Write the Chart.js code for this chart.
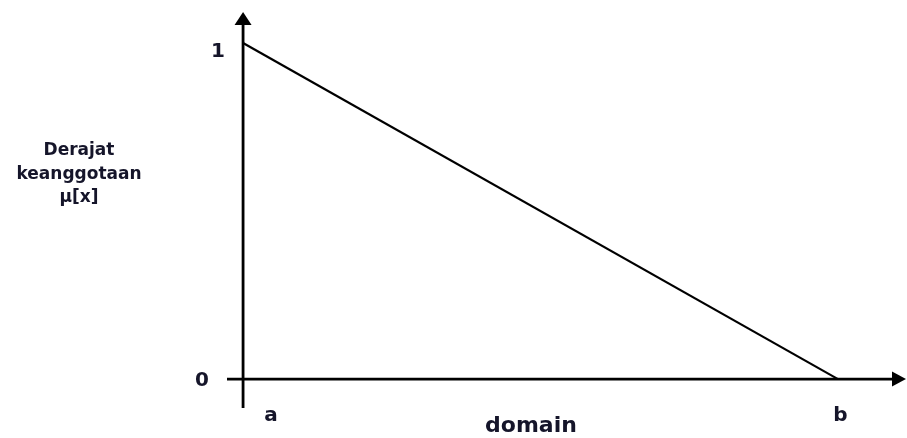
<!DOCTYPE html>
<html>
<head>
<meta charset="utf-8">
<script src="https://cdn.jsdelivr.net/npm/chart.js@4"></script>
<style>
  html, body { margin: 0; padding: 0; background: #fff; }
  #wrap { width: 907px; height: 438px; position: relative; }
</style>
</head>
<body>
<div id="wrap"><canvas id="myChart"></canvas></div>
<script>
// domain points and their membership degree
const xTickValues = [0, 1];
const xTickLabels = ['a', 'b'];
const membership = [1, 0];
const yTickValues = [0, 1];
const yTickLabels = ['0', '1'];
const yTitleLines = ['Derajat', 'keanggotaan', 'μ[x]'];
const xTitle = 'domain';

const textColor = '#15152a';
const fontFamily = '"DejaVu Sans", sans-serif';

// axes with arrow heads + labels, positioned from the scales
const axesPlugin = {
    id: 'arrowAxes',
    afterDatasetsDraw(chart) {
        const ctx = chart.ctx;
        const area = chart.chartArea;
        const xs = chart.scales.x;
        const ys = chart.scales.y;
        const x0 = xs.getPixelForValue(0);
        const y0 = ys.getPixelForValue(0);

        ctx.save();
        ctx.strokeStyle = '#000';
        ctx.fillStyle = '#000';
        ctx.lineWidth = 2.8;

        // y axis
        ctx.beginPath();
        ctx.moveTo(x0, area.bottom);
        ctx.lineTo(x0, area.top + 10);
        ctx.stroke();
        ctx.beginPath();
        ctx.moveTo(x0, area.top);
        ctx.lineTo(x0 - 8.5, area.top + 13);
        ctx.lineTo(x0 + 8.5, area.top + 13);
        ctx.closePath();
        ctx.fill();

        // x axis
        ctx.beginPath();
        ctx.moveTo(area.left, y0);
        ctx.lineTo(area.right - 12, y0);
        ctx.stroke();
        ctx.beginPath();
        ctx.moveTo(area.right - 1, y0);
        ctx.lineTo(area.right - 15, y0 - 7.5);
        ctx.lineTo(area.right - 15, y0 + 7.5);
        ctx.closePath();
        ctx.fill();

        ctx.fillStyle = textColor;
        ctx.textAlign = 'center';

        // y ticks
        ctx.font = 'bold 20px ' + fontFamily;
        ctx.textBaseline = 'middle';
        const yOffsets = [{dx: -41, dy: 2}, {dx: -25, dy: 9}];
        yTickValues.forEach((v, i) => {
            ctx.fillText(yTickLabels[i], x0 + yOffsets[i].dx, ys.getPixelForValue(v) + yOffsets[i].dy);
        });

        // x ticks
        ctx.textBaseline = 'alphabetic';
        const xOffsets = [28, 2.5];
        xTickValues.forEach((v, i) => {
            ctx.fillText(xTickLabels[i], xs.getPixelForValue(v) + xOffsets[i], y0 + 42);
        });

        // x title
        ctx.font = 'bold 22px ' + fontFamily;
        ctx.fillText(xTitle, 531, y0 + 53);

        // y title
        ctx.font = 'bold 17px ' + fontFamily;
        yTitleLines.forEach((t, i) => {
            ctx.fillText(t, 79, 155 + i * 23.5);
        });
        ctx.restore();
    }
};

const ctx = document.getElementById('myChart').getContext('2d');

const myChart = new Chart(ctx, {
    type: 'scatter',
    data: {
        datasets: [{
            label: 'μ[x]',
            data: xTickValues.map((x, i) => ({ x: x, y: membership[i] })),
            showLine: true,
            borderColor: '#000',
            borderWidth: 2.2,
            pointRadius: 0,
            fill: false,
            clip: false
        }]
    },
    options: {
        responsive: true,
        maintainAspectRatio: false,
        animation: false,
        layout: {
            padding: { left: 227, right: 0, top: 12, bottom: 30 }
        },
        scales: {
            x: { type: 'linear', min: -0.027, max: 1.116, display: false },
            y: { type: 'linear', min: -0.086, max: 1.092, display: false }
        },
        plugins: {
            legend: { display: false },
            tooltip: { enabled: false }
        }
    },
    plugins: [axesPlugin]
});
</script>
</body>
</html>
